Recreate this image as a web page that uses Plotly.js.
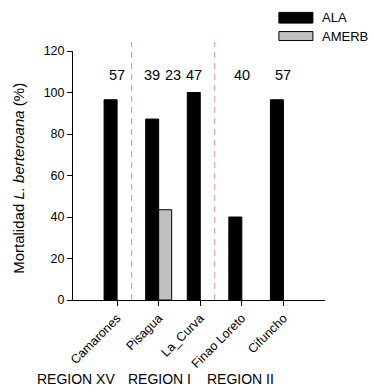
<!DOCTYPE html>
<html>
<head>
<meta charset="utf-8">
<script src="https://cdn.plot.ly/plotly-3.0.1.min.js"></script>
<style>html,body{margin:0;padding:0;background:#fff;}#chart{width:374px;height:390px;}</style>
</head>
<body>
<div id="chart"></div>
<script>
const sites = ["Camarones", "Pisagua", "La_Curva", "Finao Loreto", "Cifuncho"];
const ala = [96.5, 87.2, 100, 40, 96.5];
const amerb = [null, 43.5, null, null, null];
const nLabels = ["57", "39", "23", "47", "40", "57"];
const nPositions = [0, 0.85, 1.35, 1.85, 3, 4];
const regionLabels = ["REGION XV", "REGION I", "REGION II"];
const regionDividers = [0.35, 2.35];

const font = "Arial, 'Liberation Sans', sans-serif";

const traces = [
  {type: "bar", name: "ALA", x: sites, y: ala, marker: {color: "#000000", line: {color: "#000000", width: 1}}, showlegend: false, hoverinfo: "none"},
  {type: "bar", name: "AMERB", x: sites, y: amerb, marker: {color: "#c0c0c0", line: {color: "#000000", width: 1}}, showlegend: false, hoverinfo: "none"}
];

const shapes = regionDividers.map(v => ({
  type: "line", xref: "x", yref: "paper", x0: v, x1: v, y0: 0, y1: 1.036,
  line: {color: "#d9908f", width: 1, dash: "6px,5px"}
}));
// legend boxes
shapes.push({type: "rect", xref: "paper", yref: "paper", x0: 0.817, x1: 0.952, y0: 1.112, y1: 1.155, fillcolor: "#000000", line: {color: "#000000", width: 1}});
shapes.push({type: "rect", xref: "paper", yref: "paper", x0: 0.817, x1: 0.952, y0: 1.042, y1: 1.078, fillcolor: "#c0c0c0", line: {color: "#000000", width: 1}});

const annotations = nLabels.map((t, i) => ({
  text: t, x: nPositions[i], y: 108.4, xref: "x", yref: "y", showarrow: false,
  font: {family: font, size: 14.5, color: "#000"}, xanchor: "center", yanchor: "middle"
}));
annotations.push({text: "ALA", xref: "paper", yref: "paper", x: 0.98, y: 1.133, xanchor: "left", yanchor: "middle", showarrow: false, font: {family: font, size: 13, color: "#000"}});
annotations.push({text: "AMERB", xref: "paper", yref: "paper", x: 0.98, y: 1.06, xanchor: "left", yanchor: "middle", showarrow: false, font: {family: font, size: 13, color: "#000"}});
annotations.push({text: "Mortalidad <i>L. berteroana</i> (%)", xref: "paper", yref: "paper", x: -0.215, y: 0.49, textangle: -90, xanchor: "center", yanchor: "middle", showarrow: false, font: {family: font, size: 15, color: "#000"}});
const regionX = [35, 126, 205];
regionLabels.forEach((t, i) => annotations.push({
  text: t, xref: "paper", yref: "paper", x: (regionX[i] - 73) / 252, y: (300 - 379) / 249,
  xanchor: "left", yanchor: "middle", showarrow: false, font: {family: font, size: 14, color: "#000"}
}));

const layout = {
  width: 374, height: 390,
  margin: {l: 73, r: 49, t: 51, b: 90, pad: 0},
  paper_bgcolor: "#fff", plot_bgcolor: "#fff",
  font: {family: font, color: "#000"},
  barmode: "group", bargap: 0.375, bargroupgap: 0,
  showlegend: false,
  xaxis: {
    type: "category", range: [-1.06, 5.0], showgrid: false, zeroline: false,
    showline: true, linecolor: "#000", linewidth: 1,
    ticks: "outside", ticklen: 5, tickcolor: "#000", tickangle: -45,
    tickfont: {family: font, size: 12.5, color: "#000"}
  },
  yaxis: {
    range: [0, 120], dtick: 20, showgrid: false, zeroline: false,
    showline: true, linecolor: "#000", linewidth: 1,
    ticks: "outside", ticklen: 5, tickcolor: "#000",
    tickfont: {family: font, size: 12.5, color: "#000"}
  },
  shapes: shapes,
  annotations: annotations
};

Plotly.newPlot("chart", traces, layout, {staticPlot: true});
</script>
</body>
</html>
